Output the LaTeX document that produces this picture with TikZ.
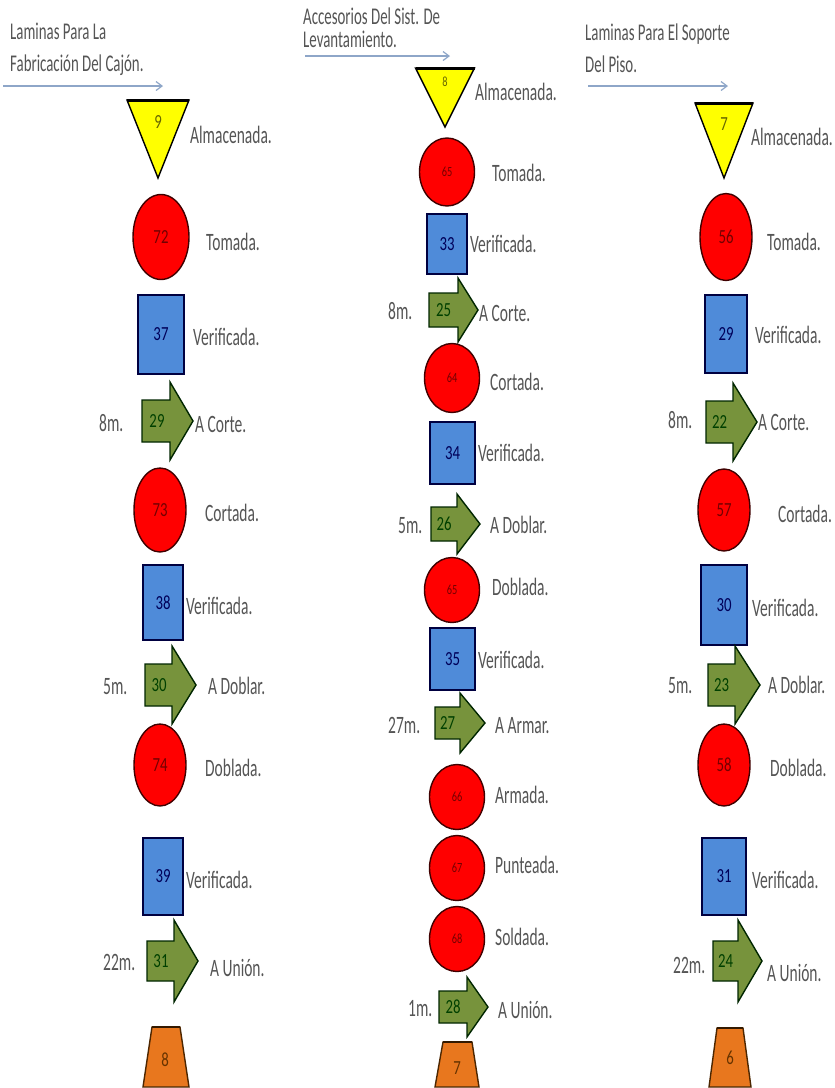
\documentclass[tikz,border=0pt]{standalone}
\usepackage{fontspec}
\setmainfont[FakeStretch=0.72]{Carlito}
\newfontfamily\lblfam[FakeStretch=0.62]{Carlito}
\newfontfamily\numfam[FakeStretch=0.74]{Carlito}
\usetikzlibrary{shapes.geometric,arrows.meta}
\definecolor{yel}{HTML}{FFFF00}
\definecolor{redf}{HTML}{FF0000}
\definecolor{bluef}{HTML}{4F8BD9}
\definecolor{greenf}{HTML}{77933C}
\definecolor{orangef}{HTML}{E8771E}
\definecolor{txt}{HTML}{555555}
\definecolor{hdr}{HTML}{8EA6C8}
\newcommand{\lblfont}{\lblfam\fontsize{25}{27}\selectfont}
\newcommand{\hdrfont}{\lblfam\fontsize{24}{26}\selectfont}
\newcommand{\numfont}{\numfam\fontsize{20}{22}\selectfont}
\newcommand{\smnumfont}{\numfam\fontsize{14}{16}\selectfont}
\newcommand{\TriShp}[4]{%
  \draw[tri] ({#1-#3},#2) -- ({#1+#3},#2) -- (#1,#4) -- cycle;
  \draw[tritop] ({#1-#3},#2) -- ({#1+#3},#2);}
\newcommand{\ArrShp}[6]{%
  \draw[arr] (#1,{#4-#5}) -- (#2,{#4-#5}) -- (#2,{#4-#6}) -- (#3,#4) -- (#2,{#4+#6}) -- (#2,{#4+#5}) -- (#1,{#4+#5}) -- cycle;}
\newcommand{\TrapShp}[6]{%
  \draw[trap] (#1,#3) -- (#2,#3) -- (#5,#6) -- (#4,#6) -- cycle;
  \draw[traptop] (#1,#3) -- (#2,#3);}
\tikzset{
  tri/.style={fill=yel, draw=black, line width=1.4pt, line join=miter},
  tritop/.style={draw=black, line width=3pt},
  circ/.style={ellipse, fill=redf, draw=black!75!red, line width=1.4pt, inner sep=0pt, text=red!45!black, font=\numfont},
  circs/.style={circ, font=\smnumfont},
  sqr/.style={rectangle, fill=bluef, draw=blue!25!black, line width=1.5pt, inner sep=0pt, text=blue!35!black, font=\numfont},
  arr/.style={fill=greenf, draw=black!85!green, line width=1.4pt, line join=miter},
  trap/.style={fill=orangef, draw=black!70!orange, line width=1.4pt, line join=miter},
  traptop/.style={draw=black!80!orange, line width=2.5pt},
  lbl/.style={anchor=west, inner sep=0pt, text=txt, font=\lblfont, text height=16pt, text depth=0pt},
  hdrtxt/.style={anchor=west, inner sep=0pt, text=txt, font=\hdrfont, text height=15pt, text depth=0pt},
  num/.style={inner sep=0pt, font=\numfont},
  trinum/.style={num, text=yel!40!black},
  arrnum/.style={num, text=green!25!black},
  trapnum/.style={num, text=orange!40!black},
  hdrarrow/.style={draw=hdr, line width=1.2pt, -{Straight Barb[length=6pt,width=9pt]}}
}
\begin{document}
\begin{tikzpicture}[x=1pt,y=-1pt]
\useasboundingbox[fill=white] (0,0) rectangle (835,1088);
% ---------- headers ----------
\node[hdrtxt] (t1a) at (10,32) {Laminas Para La};
\node[hdrtxt] (t1b) at (10,64) {Fabricación Del Cajón.};
\coordinate (h1s) at (3,86); \coordinate (h1e) at (163,86);
\draw[hdrarrow] (h1s) -- (h1e);
\node[hdrtxt] (t2a) at (303,17) {Accesorios Del Sist. De};
\node[hdrtxt] (t2b) at (303,40) {Levantamiento.};
\coordinate (h2s) at (305,56); \coordinate (h2e) at (450,56);
\draw[hdrarrow] (h2s) -- (h2e);
\node[hdrtxt] (t3a) at (585,33) {Laminas Para El Soporte};
\node[hdrtxt] (t3b) at (585,65) {Del Piso.};
\coordinate (h3s) at (588,86); \coordinate (h3e) at (728,86);
\draw[hdrarrow] (h3s) -- (h3e);
% ---------- column 1 ----------
\TriShp{158}{100}{31}{178}
\node[trinum] (n9) at (158,122) {9};
\node[lbl] (l9) at (190,135) {Almacenada.};
\node[circ, minimum width=56pt, minimum height=85pt] (c72) at (161,237) {72};
\node[lbl] (l72) at (206,242) {Tomada.};
\node[sqr, minimum width=46pt, minimum height=79pt] (s37) at (161,334.5) {37};
\node[lbl] (l37) at (193,337) {Verificada.};
\ArrShp{142}{170}{193}{421}{21}{39}
\node[arrnum] (n29) at (157,421) {29};
\node[lbl] (d29) at (99,423) {8m.};
\node[lbl] (l29) at (195,424) {A Corte.};
\node[circ, minimum width=52pt, minimum height=84pt] (c73) at (160,510) {73};
\node[lbl] (l73) at (205,513) {Cortada.};
\node[sqr, minimum width=40pt, minimum height=75pt] (s38) at (163,602.5) {38};
\node[lbl] (l38) at (186,606) {Verificada.};
\ArrShp{145}{172}{196}{685}{21}{39}
\node[arrnum] (n30) at (159,685) {30};
\node[lbl] (d30) at (103,686) {5m.};
\node[lbl] (l30) at (208,686) {A Doblar.};
\node[circ, minimum width=52pt, minimum height=82pt] (c74) at (160,765) {74};
\node[lbl] (l74) at (205,768) {Doblada.};
\node[sqr, minimum width=40pt, minimum height=77pt] (s39) at (163,876.5) {39};
\node[lbl] (l39) at (186,880) {Verificada.};
\ArrShp{147}{174}{198}{961}{20}{41}
\node[arrnum] (n31) at (161,961) {31};
\node[lbl] (d31) at (103,962) {22m.};
\node[lbl] (l31) at (210,968) {A Unión.};
\TrapShp{152}{180}{1027}{143}{189}{1087}
\node[trapnum] (n8a) at (165,1060) {8};
% ---------- column 2 ----------
\TriShp{445}{68}{29.5}{127}
\node[trinum, font=\smnumfont] (n8b) at (445,82) {8};
\node[lbl] (l8b) at (475,92) {Almacenada.};
\node[circs, minimum width=55pt, minimum height=68pt] (c65a) at (447,172) {65};
\node[lbl] (l65a) at (492,173) {Tomada.};
\node[sqr, minimum width=40pt, minimum height=60pt] (s33) at (447,244) {33};
\node[lbl] (l33) at (470,244) {Verificada.};
\ArrShp{429}{458}{478}{310}{17}{32}
\node[arrnum] (n25) at (443.5,310) {25};
\node[lbl] (d25) at (388,311) {8m.};
\node[lbl] (l25) at (479,313) {A Corte.};
\node[circs, minimum width=55pt, minimum height=69pt] (c64) at (452,378) {64};
\node[lbl] (l64) at (490,382) {Cortada.};
\node[sqr, minimum width=45pt, minimum height=62pt] (s34) at (452.5,453) {34};
\node[lbl] (l34) at (478,453) {Verificada.};
\ArrShp{431}{457}{480}{524}{17}{30}
\node[arrnum] (n26) at (444,524) {26};
\node[lbl] (d26) at (398,525) {5m.};
\node[lbl] (l26) at (490,525) {A Doblar.};
\node[circs, minimum width=55pt, minimum height=65pt] (c65b) at (452,590) {65};
\node[lbl] (l65b) at (492,587) {Doblada.};
\node[sqr, minimum width=45pt, minimum height=62pt] (s35) at (452.5,659) {35};
\node[lbl] (l35) at (478,660) {Verificada.};
\ArrShp{435}{460}{485}{723}{16}{30}
\node[arrnum] (n27) at (447.5,723) {27};
\node[lbl] (d27) at (388,725) {27m.};
\node[lbl] (l27) at (495,725) {A Armar.};
\node[circs, minimum width=55pt, minimum height=65pt] (c66) at (457,797) {66};
\node[lbl] (l66) at (495,795) {Armada.};
\node[circs, minimum width=55pt, minimum height=65pt] (c67) at (457,868) {67};
\node[lbl] (l67) at (495,865) {Punteada.};
\node[circs, minimum width=55pt, minimum height=65pt] (c68) at (457,939) {68};
\node[lbl] (l68) at (495,937) {Soldada.};
\ArrShp{439}{467}{488}{1007}{16}{30}
\node[arrnum] (n28) at (453,1007) {28};
\node[lbl] (d28) at (408,1008) {1m.};
\node[lbl] (l28) at (498,1010) {A Unión.};
\TrapShp{443}{472}{1042}{435}{479}{1087}
\node[trapnum] (n7b) at (457,1068) {7};
% ---------- column 3 ----------
\TriShp{724}{103}{29}{178}
\node[trinum] (n7c) at (724,124) {7};
\node[lbl] (l7c) at (751,137) {Almacenada.};
\node[circ, minimum width=52pt, minimum height=87pt] (c56) at (726,237) {56};
\node[lbl] (l56) at (767,242) {Tomada.};
\node[sqr, minimum width=42pt, minimum height=78pt] (s29) at (726,334) {29};
\node[lbl] (l29c) at (755,335) {Verificada.};
\ArrShp{706}{733}{757}{422}{21}{39}
\node[arrnum] (n22) at (719.5,422) {22};
\node[lbl] (d22) at (668,420) {8m.};
\node[lbl] (l22) at (758,422) {A Corte.};
\node[circ, minimum width=52pt, minimum height=82pt] (c57) at (724,510) {57};
\node[lbl] (l57) at (778,514) {Cortada.};
\node[sqr, minimum width=46pt, minimum height=80pt] (s30) at (724,605) {30};
\node[lbl] (l30c) at (752,608) {Verificada.};
\ArrShp{708}{735}{760}{685}{21}{39}
\node[arrnum] (n23) at (721.5,685) {23};
\node[lbl] (d23) at (668,685) {5m.};
\node[lbl] (l23) at (768,685) {A Doblar.};
\node[circ, minimum width=52pt, minimum height=82pt] (c58) at (724,765) {58};
\node[lbl] (l58) at (770,768) {Doblada.};
\node[sqr, minimum width=44pt, minimum height=77pt] (s31) at (724,876.5) {31};
\node[lbl] (l31c) at (752,880) {Verificada.};
\ArrShp{713}{738}{762}{961}{20}{41}
\node[arrnum] (n24) at (725.5,961) {24};
\node[lbl] (d24) at (673,965) {22m.};
\node[lbl] (l24) at (767,973) {A Unión.};
\TrapShp{717}{743}{1028}{709}{751}{1087}
\node[trapnum] (n6) at (730,1058) {6};
\end{tikzpicture}
\end{document}
